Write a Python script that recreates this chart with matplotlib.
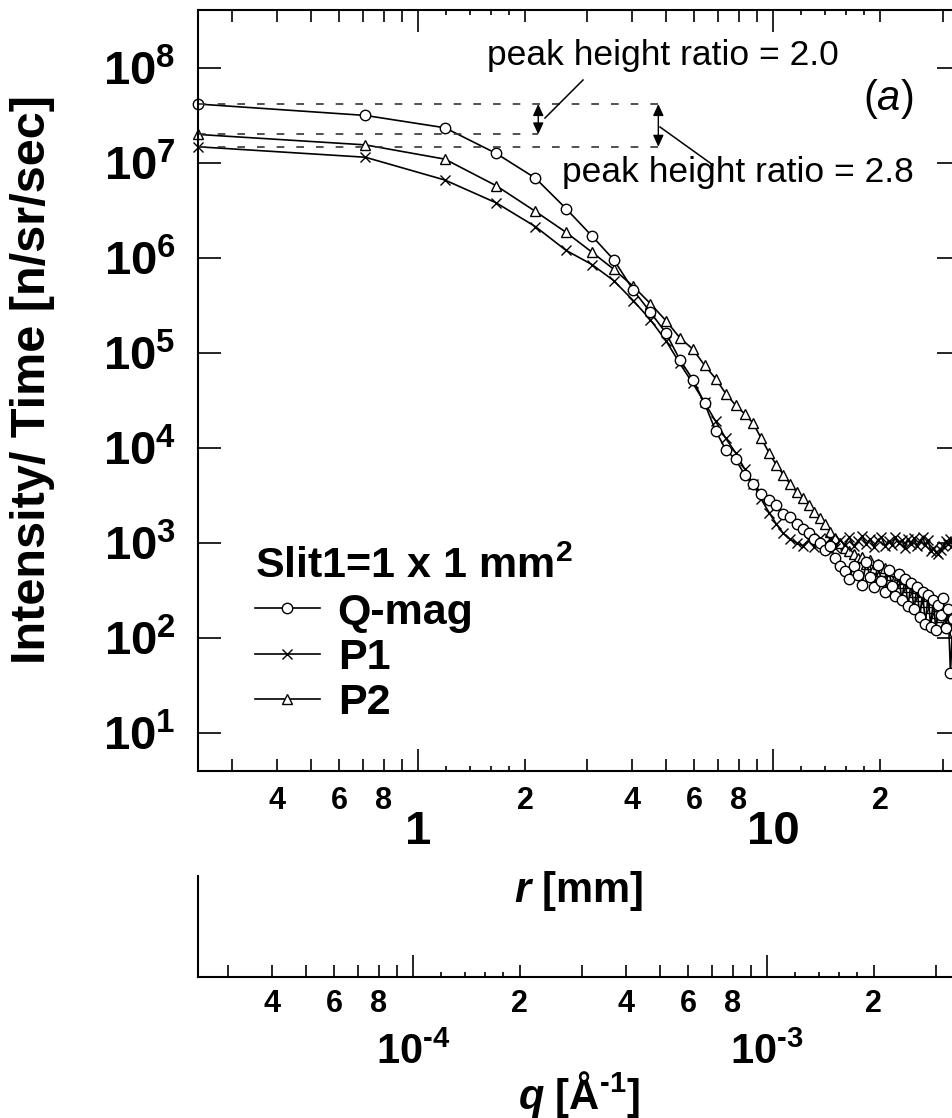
"""Intensity vs detector position for three monochromator options (Slit1 = 1 x 1 mm^2)."""

import numpy as np
import matplotlib
matplotlib.use("Agg")
import matplotlib.pyplot as plt
from matplotlib.lines import Line2D
from matplotlib.ticker import NullLocator

# ---- data --------------------------------------------------------------
# detector position r [mm], same grid for all three runs
r_mm = [0.24, 0.71, 1.19, 1.66, 2.14, 2.61, 3.09, 3.56, 4.04, 4.51,
        4.99, 5.46, 5.94, 6.41, 6.89, 7.36, 7.84, 8.31, 8.79, 9.26,
        9.74, 10.21, 10.69, 11.16, 11.64, 12.11, 12.59, 13.06, 13.54, 14.01,
        14.49, 14.96, 15.44, 15.91, 16.39, 16.86, 17.34, 17.81, 18.29, 18.76,
        19.24, 19.71, 20.19, 20.66, 21.14, 21.61, 22.09, 22.56, 23.04, 23.51,
        23.99, 24.46, 24.94, 25.41, 25.89, 26.36, 26.84, 27.31, 27.79, 28.26,
        28.74, 29.21, 29.69, 30.16, 30.64, 31.11, 31.59, 32.06, 32.54, 33.01]

# log10 of intensity/time [n/sr/sec]
qmag_log = [7.62, 7.50, 7.37, 7.10, 6.84, 6.52, 6.23, 5.98, 5.66, 5.43,
            5.21, 4.93, 4.72, 4.47, 4.18, 3.98, 3.88, 3.72, 3.62, 3.52,
            3.45, 3.40, 3.30, 3.27, 3.20, 3.15, 3.10, 3.04, 3.00, 2.93,
            2.97, 2.84, 2.76, 2.70, 2.62, 2.76, 2.66, 2.56, 2.80, 2.64,
            2.54, 2.77, 2.60, 2.48, 2.72, 2.55, 2.44, 2.67, 2.40, 2.62,
            2.34, 2.58, 2.30, 2.54, 2.22, 2.48, 2.15, 2.45, 2.12, 2.40,
            2.08, 2.35, 2.24, 2.42, 2.10, 2.30, 1.63, 2.20, 2.05, 2.15]

p1_log = [7.17, 7.06, 6.82, 6.58, 6.33, 6.08, 5.93, 5.76, 5.55, 5.35,
          5.13, 4.89, 4.68, 4.48, 4.28, 4.10, 3.95, 3.78, 3.62, 3.46,
          3.32, 3.20, 3.10, 3.04, 3.00, 2.97, 3.03, 2.96, 3.05, 2.99,
          3.04, 2.95, 3.03, 2.98, 3.06, 2.97, 3.02, 3.07, 2.99, 3.04,
          2.96, 3.03, 3.06, 2.97, 3.02, 2.98, 3.06, 3.00, 3.03, 2.95,
          3.04, 2.99, 3.05, 2.97, 3.02, 3.06, 2.98, 3.03, 2.92, 2.95,
          2.90, 2.88, 2.93, 2.97, 3.02, 2.99, 3.04, 2.98, 3.01, 2.97]

p2_log = [7.30, 7.19, 7.04, 6.76, 6.49, 6.27, 6.06, 5.88, 5.70, 5.52,
          5.34, 5.16, 5.04, 4.87, 4.73, 4.57, 4.45, 4.36, 4.26, 4.10,
          3.95, 3.82, 3.72, 3.62, 3.54, 3.47, 3.40, 3.33, 3.26, 3.20,
          3.12, 3.05, 3.00, 2.95, 2.92, 2.88, 2.84, 2.85, 2.78, 2.82,
          2.74, 2.78, 2.70, 2.74, 2.66, 2.70, 2.62, 2.66, 2.58, 2.62,
          2.54, 2.58, 2.48, 2.53, 2.44, 2.48, 2.38, 2.44, 2.32, 2.38,
          2.26, 2.34, 2.22, 2.30, 2.18, 2.26, 2.12, 2.20, 2.10, 2.15]

series_labels = ["Q-mag", "P1", "P2"]
legend_title = "Slit1=1 x 1 mm$^{2}$"

# axis ranges
r_lim = (0.240, 33.6)
q_lim = (2.47e-5, 3.51e-3)
i_lim = (3.98, 4.07e8)

# ticks
i_major = [1e1, 1e2, 1e3, 1e4, 1e5, 1e6, 1e7, 1e8]
i_major_labels = ["$10^{%d}$" % k for k in range(1, 9)]
r_major = [1, 10]
r_major_labels = ["1", "10"]
r_minor = [0.3, 0.4, 0.5, 0.6, 0.7, 0.8, 0.9, 2, 3, 4, 5, 6, 7, 8, 9, 20, 30]
r_minor_labels = ["", "4", "", "6", "", "8", "", "2", "", "4", "", "6", "", "8", "", "2", ""]
r_fine = [1.2, 1.4, 1.6, 1.8, 12, 14, 16, 18]
q_major = [1e-4, 1e-3]
q_major_labels = ["$10^{\\text{-}4}$", "$10^{\\text{-}3}$"]
q_minor = [3e-5, 4e-5, 5e-5, 6e-5, 7e-5, 8e-5, 9e-5,
           2e-4, 3e-4, 4e-4, 5e-4, 6e-4, 7e-4, 8e-4, 9e-4, 2e-3, 3e-3]
q_minor_labels = r_minor_labels
q_fine = [1.2e-4, 1.4e-4, 1.6e-4, 1.8e-4, 1.2e-3, 1.4e-3, 1.6e-3, 1.8e-3]

# annotation: r positions of the two double arrows
ratio_arrow_r = [2.18, 4.75]

# ---- style ---------------------------------------------------------------
plt.rcParams["font.family"] = ["Liberation Sans", "DejaVu Sans"]
plt.rcParams["font.weight"] = "bold"
plt.rcParams["mathtext.fontset"] = "custom"
plt.rcParams["mathtext.rm"] = "Liberation Sans:bold"
plt.rcParams["mathtext.it"] = "Liberation Sans:italic:normal"
plt.rcParams["mathtext.bf"] = "Liberation Sans:bold:italic"

W, H = 953, 1118


def fx(px):
    return px / W


def fy(py):
    return 1 - py / H


fig = plt.figure(figsize=(W / 100, H / 100), dpi=100)
fig.patch.set_facecolor("white")

ax = fig.add_axes([fx(198), fy(771), (960 - 198) / W, (771 - 10) / H])
ax.set_xscale("log")
ax.set_yscale("log")
ax.set_xlim(r_lim)
ax.set_ylim(i_lim)

r = np.array(r_mm)
qmag = np.power(10.0, qmag_log)
p1 = np.power(10.0, p1_log)
p2 = np.power(10.0, p2_log)

common = dict(color="black", lw=1.2, mec="black", mew=1.0, clip_on=False)
h_p2, = ax.plot(r, p2, marker="^", ms=7.5, mfc="white", **common)
h_p1, = ax.plot(r, p1, marker="x", ms=7, **common)
h_q, = ax.plot(r, qmag, marker="o", ms=7.5, mfc="white", **common)

# peak height guides
dash = (0, (4.6, 7.2))
ax.hlines([qmag[0], p1[0]], r[0], ratio_arrow_r[1], colors="#333333", lw=1.2, linestyles=[dash])
ax.hlines(p2[0], r[0], ratio_arrow_r[0], colors="#333333", lw=1.2, linestyles=[dash])
arrow = dict(arrowstyle="<|-|>,head_length=0.35,head_width=0.16", color="black",
             lw=1.0, shrinkA=0, shrinkB=0, mutation_scale=20)
ax.annotate("", xy=(ratio_arrow_r[0], qmag[0]), xytext=(ratio_arrow_r[0], p2[0]), arrowprops=arrow)
ax.annotate("", xy=(ratio_arrow_r[1], qmag[0]), xytext=(ratio_arrow_r[1], p1[0]), arrowprops=arrow)
fig.add_artist(Line2D([fx(545), fx(583)], [fy(118), fy(80)], transform=fig.transFigure,
                      color="black", lw=1.1))
fig.add_artist(Line2D([fx(660), fx(713)], [fy(127), fy(165)], transform=fig.transFigure,
                      color="black", lw=1.1))
fig.text(fx(487), fy(65), "peak height ratio = 2.0", fontsize=25.5, fontweight="normal",
         ha="left", va="baseline")
fig.text(fx(562), fy(182), "peak height ratio = 2.8", fontsize=25.5, fontweight="normal",
         ha="left", va="baseline")
fig.text(fx(888), fy(99), "($a$)", fontsize=30, fontweight="normal", ha="center", va="center")

# ticks and labels
for s in ax.spines.values():
    s.set_linewidth(1.5)
ax.set_yticks(i_major, i_major_labels)
ax.yaxis.set_minor_locator(NullLocator())
ax.set_xticks(r_major, r_major_labels)
ax.set_xticks(r_minor, r_minor_labels, minor=True)
ax.tick_params(which="both", direction="in", top=True, right=True, width=1.2)
ax.tick_params(axis="y", which="major", length=16.5, pad=16, labelsize=34)
ax.tick_params(axis="x", which="major", length=16, pad=28, labelsize=34)
ax.tick_params(axis="x", which="minor", length=8.6, pad=11, labelsize=22)

for loc in ("bottom", "top"):
    sec = ax.secondary_xaxis(loc)
    sec.set_xticks(r_fine)
    sec.xaxis.set_minor_locator(NullLocator())
    sec.tick_params(which="major", direction="in", length=3.6, width=1.2,
                    labelbottom=False, labeltop=False)
    sec.spines[loc].set_visible(False)

ax.set_xlabel("$\\mathbf{r}$ [mm]", fontsize=30, fontweight="bold", labelpad=11)
ax.set_ylabel("Intensity/ Time [n/sr/sec]", fontsize=35, fontweight="bold")
ax.yaxis.set_label_coords(-0.188, 0.515)

leg = ax.legend([h_q, h_p1, h_p2], series_labels, title=legend_title,
                loc="upper left", bbox_to_anchor=(fx(255), fy(547)),
                bbox_transform=fig.transFigure, frameon=False,
                prop={"size": 31, "weight": "bold"},
                title_fontproperties={"size": 31, "weight": "bold"},
                handlelength=1.5, handletextpad=0.42, labelspacing=0.12,
                borderpad=0, borderaxespad=0, alignment="left")

# ---- second axis: q ------------------------------------------------------
axq = fig.add_axes([fx(198), fy(977), (960 - 198) / W, (977 - 876) / H])
axq.set_xscale("log")
axq.set_xlim(q_lim)
axq.set_yticks([])
for name in ("top", "right"):
    axq.spines[name].set_visible(False)
for name in ("left", "bottom"):
    axq.spines[name].set_linewidth(1.5)
axq.patch.set_alpha(0)
axq.set_xticks(q_major, q_major_labels)
axq.set_xticks(q_minor, q_minor_labels, minor=True)
axq.tick_params(axis="x", which="both", direction="in", width=1.2)
axq.tick_params(axis="x", which="major", length=16, pad=40, labelsize=30)
axq.tick_params(axis="x", which="minor", length=8.6, pad=9, labelsize=22)
secq = axq.secondary_xaxis("bottom")
secq.set_xticks(q_fine)
secq.xaxis.set_minor_locator(NullLocator())
secq.tick_params(which="major", direction="in", length=3.6, width=1.2, labelbottom=False)
secq.spines["bottom"].set_visible(False)
axq.set_xlabel("$\\mathbf{q}$ [$\\mathrm{\\AA}^{\\text{-}1}$]", fontsize=30,
               fontweight="bold", labelpad=-3)

fig.savefig("out.png", dpi=100)
